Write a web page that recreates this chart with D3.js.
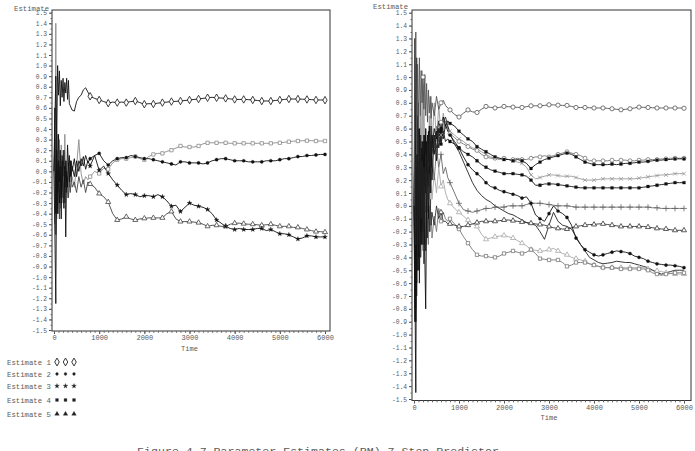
<!DOCTYPE html>
<html><head><meta charset="utf-8">
<script src="https://cdn.jsdelivr.net/npm/d3@7"></script>
<style>
body{margin:0;background:#fff}
text{font-family:"Liberation Mono","DejaVu Sans Mono",monospace;fill:#5a5a5a}
</style>
</head><body>
<svg id="c" width="695" height="451"></svg>
<script>
// ---------- DATA ----------
const time = [0,20,40,60,80,100,120,140,160,180,200,220,240,260,280,300,320,340,360,380,400,
  450,500,550,600,650,700,750,
  800,900,1000,1100,1200,1300,1400,1500,1600,1700,1800,1900,2000,2100,2200,2300,2400,2500,2600,2700,
  2800,2900,3000,3100,3200,3300,3400,3500,3600,3700,3800,3900,4000,4100,4200,4300,4400,4500,4600,4700,
  4800,4900,5000,5100,5200,5300,5400,5500,5600,5700,5800,5900,6000];

// Left panel (5 estimates)
const est1 = [0.00,0.45,0.90,0.30,1.00,0.72,0.95,0.62,0.86,0.70,0.88,0.66,0.84,0.74,0.88,0.68,0.86,0.64,0.62,0.60,0.58,
  0.57,0.66,0.70,0.72,0.77,0.79,0.75,
  .71,.69,.675,.66,.645,.655,.65,.655,.65,.66, .665,.65,.635,.64,.637,.645,.65,.655,.66,.662,
  .665,.67,.675,.68,.684,.69,.696,.70,.696,.693, .69,.685,.68,.68,.68,.678,.675,.67,.665,.665,
  .665,.67,.675,.68,.684,.684,.684,.682,.68,.678, .675,.675,.673];
const est2 = [0.00,-0.60,-1.25,0.20,-0.40,0.10,-0.30,0.05,-0.45,0.10,-0.20,-0.35,0.05,-0.62,0.00,-0.15,0.08,-0.10,0.10,-0.05,0.05,
  -0.05,0.10,0.00,0.12,0.05,0.15,0.08,
  .12,.15,.17,.10,.06,.10,.12,.13,.13,.15, .14,.13,.12,.12,.11,.10,.09,.08,.07,.06,
  .09,.09,.08,.08,.08,.07,.08,.10,.11,.12, .12,.11,.10,.10,.10,.09,.09,.09,.09,.10,
  .10,.10,.11,.12,.12,.13,.14,.14,.15,.15, .155,.16,.16];
const est3 = [0.00,0.60,-0.40,0.30,-0.20,0.35,-0.10,0.20,-0.25,0.15,-0.05,0.20,-0.15,0.10,-0.10,0.25,0.05,0.15,-0.05,0.10,0.00,
  0.12,-0.05,0.10,0.05,0.14,0.02,0.10,
  .05,.15,.01,.05,-.02,-.08,-.13,-.18,-.22,-.21, -.22,-.24,-.23,-.23,-.24,-.22,-.24,-.28,-.33,-.32,
  -.38,-.34,-.30,-.32,-.33,-.34,-.36,-.40,-.46,-.49, -.52,-.54,-.55,-.54,-.55,-.55,-.55,-.54,-.54,-.56,
  -.55,-.57,-.59,-.59,-.60,-.62,-.64,-.63,-.61,-.61, -.62,-.62,-.62];
const est4 = [0.00,-0.50,1.40,-0.45,0.35,-0.40,0.30,-0.35,0.25,-0.30,0.20,-0.25,0.35,-0.20,0.10,-0.25,0.05,-0.15,0.10,-0.10,-0.05,
  -0.15,0.05,0.30,-0.02,-0.12,-0.05,-0.08,
  -.05,.00,-.02,.03,.02,.08,.11,.12,.12,.13, .14,.12,.11,.14,.16,.17,.17,.19,.20,.22,
  .24,.23,.23,.23,.24,.26,.27,.27,.27,.27, .27,.265,.265,.265,.265,.265,.265,.265,.265,.265,
  .265,.27,.27,.275,.28,.285,.287,.29,.29,.29, .287,.287,.287];
const est5 = [0.00,0.30,-0.60,0.10,-0.35,0.00,-0.45,-0.05,-0.30,0.05,-0.25,-0.05,-0.30,0.00,-0.20,-0.05,-0.25,-0.10,-0.20,-0.05,-0.15,
  -0.10,-0.20,-0.05,-0.15,-0.08,-0.20,-0.10,
  -.12,-.15,-.21,-.24,-.29,-.40,-.46,-.45,-.43,-.45, -.46,-.45,-.445,-.44,-.44,-.44,-.44,-.40,-.38,-.45,
  -.475,-.475,-.475,-.48,-.485,-.50,-.52,-.51,-.51,-.52, -.52,-.50,-.49,-.49,-.495,-.50,-.50,-.505,-.51,-.505,
  -.50,-.51,-.52,-.52,-.52,-.53,-.53,-.54,-.55,-.56, -.57,-.57,-.575];

// Right panel (11 estimates)
const r1 = [0.00,0.80,1.35,0.40,1.10,0.60,1.15,0.70,1.05,0.80,1.00,0.75,1.02,0.70,0.95,0.65,0.90,0.72,0.85,0.68,0.80,
  0.70,0.85,0.75,0.80,0.82,0.78,0.76,
  .745,.71,.69,.72,.745,.73,.725,.75,.772,.765, .76,.765,.772,.77,.767,.765,.764,.77,.777,.777,
  .777,.78,.785,.784,.782,.78,.78,.772,.764,.764, .764,.762,.76,.76,.76,.757,.754,.75,.746,.75,
  .754,.76,.767,.765,.764,.762,.76,.76,.76,.76, .76,.76,.758];
const r2 = [0.00,-0.80,0.60,-0.50,0.50,-0.30,0.45,-0.20,0.55,0.00,0.40,-0.10,0.50,0.10,0.45,0.20,0.55,0.30,0.60,0.35,0.55,
  0.45,0.62,0.50,0.65,0.58,0.66,0.60,
  .56,.53,.50,.48,.46,.44,.43,.40,.38,.37, .37,.36,.37,.36,.36,.37,.36,.36,.37,.38,
  .38,.39,.38,.39,.40,.41,.42,.41,.40,.39, .37,.35,.35,.35,.35,.35,.355,.35,.355,.355,
  .35,.35,.355,.355,.36,.36,.36,.365,.365,.37, .37,.37,.37];
const r3 = [0.00,0.50,-0.90,0.30,-0.40,0.35,-0.30,0.40,-0.10,0.50,0.05,0.55,0.15,0.60,0.25,0.55,0.35,0.62,0.40,0.55,0.45,
  0.60,0.52,0.66,0.58,0.69,0.62,0.66,
  .64,.62,.58,.55,.52,.50,.46,.44,.42,.40, .38,.37,.36,.36,.35,.36,.35,.33,.29,.32,
  .34,.36,.37,.38,.39,.40,.41,.40,.38,.36, .34,.33,.32,.32,.32,.32,.325,.32,.325,.33,
  .33,.335,.34,.34,.345,.35,.355,.355,.36,.36, .365,.365,.365];
const r4 = [0.00,0.30,-0.50,0.80,-0.20,0.60,0.00,0.70,0.20,1.05,0.30,0.95,0.25,0.60,0.10,0.50,0.20,0.70,0.40,0.85,0.45,
  0.80,0.50,0.78,0.55,0.72,0.60,0.62,
  .58,.55,.52,.50,.47,.45,.44,.42,.40,.38, .37,.37,.36,.36,.35,.34,.33,.30,.24,.21,
  .22,.23,.24,.24,.235,.23,.23,.23,.22,.21, .20,.20,.20,.205,.21,.21,.21,.21,.21,.21,
  .21,.21,.215,.22,.225,.23,.235,.24,.24,.245, .25,.25,.25];
const r5 = [0.00,-0.60,-1.45,0.20,-0.50,0.10,-0.60,0.05,-0.30,0.30,-0.20,0.10,-0.40,-0.80,0.00,0.30,-0.10,0.40,0.10,0.50,0.20,
  0.55,0.35,0.60,0.48,0.58,0.50,0.52,
  .50,.48,.45,.42,.40,.38,.35,.32,.30,.28, .27,.26,.25,.25,.25,.245,.24,.23,.20,.16,
  .16,.17,.17,.17,.165,.16,.155,.15,.145,.14, .14,.14,.14,.14,.14,.14,.14,.14,.14,.14,
  .14,.14,.14,.145,.15,.155,.16,.165,.17,.175, .18,.18,.18];
const r6 = [0.00,0.40,0.90,-0.30,0.60,-0.20,0.30,-0.35,0.20,-0.25,0.35,-0.10,0.40,0.00,0.35,-0.05,0.30,0.05,0.45,0.10,0.40,
  0.20,0.45,0.30,0.40,0.25,0.30,0.22,
  .18,.10,.02,-.03,-.04,-.05,-.04,-.03,-.02,-.02, -.01,-.01,-.01,.00,.00,.00,.00,.01,.02,.02,
  .02,.015,.01,.005,.00,.00,.00,-.005,-.01,-.01, -.01,-.01,-.01,-.01,-.01,-.01,-.01,-.01,-.01,-.01,
  -.01,-.01,-.01,-.01,-.01,-.015,-.015,-.02,-.02,-.02, -.02,-.02,-.02];
const r7 = [0.00,-0.40,0.50,-0.70,0.20,-0.50,0.10,-0.40,0.25,-0.30,0.05,-0.45,0.00,-0.35,0.10,-0.25,0.00,-0.20,0.05,-0.15,-0.05,
  -0.15,0.00,-0.10,-0.05,-0.12,-0.12,-0.14,
  -.14,-.15,-.16,-.16,-.15,-.14,-.13,-.12,-.12,-.12, -.12,-.115,-.11,-.11,-.115,-.12,-.125,-.13,-.135,-.14,
  -.145,-.15,-.16,-.17,-.175,-.18,-.18,-.17,-.16,-.155, -.15,-.145,-.145,-.14,-.14,-.145,-.15,-.155,-.16,-.16,
  -.16,-.16,-.16,-.16,-.165,-.17,-.175,-.18,-.18,-.185, -.19,-.19,-.19];
const r8 = [0.00,0.20,-0.80,0.10,-0.30,0.20,-0.50,0.00,-0.30,0.15,-0.35,-0.05,-0.30,0.05,-0.25,-0.10,-0.30,0.00,-0.20,-0.05,-0.25,
  -0.08,-0.20,-0.02,-0.12,-0.05,-0.10,-0.12,
  -.10,-.14,-.18,-.24,-.29,-.34,-.38,-.39,-.39,-.40, -.40,-.39,-.37,-.36,-.35,-.36,-.37,-.36,-.34,-.37,
  -.41,-.415,-.42,-.42,-.42,-.44,-.47,-.46,-.44,-.44, -.44,-.45,-.46,-.47,-.48,-.48,-.48,-.485,-.49,-.49,
  -.49,-.49,-.49,-.49,-.50,-.52,-.53,-.54,-.53,-.525, -.52,-.52,-.52];
const r9 = [0.00,0.70,-0.20,0.90,-0.40,0.50,-0.10,0.60,-0.40,0.40,-0.10,0.45,-0.20,0.30,-0.30,0.10,-0.15,0.20,-0.10,0.15,0.05,
  0.25,0.10,0.30,0.15,0.20,0.10,0.05,
  .02,-.02,-.05,-.08,-.11,-.14,-.16,-.22,-.26,-.25, -.24,-.235,-.23,-.24,-.25,-.27,-.29,-.31,-.34,-.345,
  -.35,-.35,-.34,-.33,-.35,-.37,-.38,-.40,-.41,-.42, -.43,-.45,-.46,-.47,-.475,-.48,-.48,-.48,-.48,-.48,
  -.48,-.48,-.48,-.48,-.49,-.50,-.505,-.51,-.52,-.525, -.53,-.53,-.53];
const r10 = [0.00,-0.90,1.10,-0.60,0.70,-0.40,0.60,-0.20,0.45,-0.15,0.50,0.00,0.55,0.10,0.50,0.20,0.58,0.25,0.50,0.30,0.55,
  0.40,0.58,0.45,0.60,0.52,0.63,0.58,
  .55,.50,.45,.38,.32,.28,.25,.22,.18,.15, .14,.12,.11,.10,.09,.08,.06,.07,.02,-.07,
  -.10,-.12,-.06,.00,-.04,-.06,-.09,-.15,-.25,-.30, -.34,-.36,-.38,-.39,-.38,-.37,-.36,-.35,-.355,-.36,
  -.37,-.39,-.40,-.41,-.43,-.44,-.45,-.455,-.46,-.46, -.465,-.47,-.48];
const r11 = [0.00,1.30,-0.30,1.15,-0.50,0.80,-0.30,0.55,-0.10,0.35,-0.30,0.30,-0.05,0.40,0.05,0.50,0.15,0.55,0.30,0.62,0.40,
  0.55,0.45,0.60,0.50,0.65,0.69,0.62,
  .56,.48,.42,.34,.26,.18,.12,.08,.05,.03, .00,-.02,-.04,-.06,-.07,-.09,-.11,-.13,-.14,-.15,
  -.20,-.26,-.15,-.05,-.12,-.15,-.16,-.18,-.24,-.30, -.35,-.40,-.42,-.44,-.45,-.445,-.44,-.43,-.435,-.44,
  -.44,-.45,-.46,-.47,-.48,-.50,-.52,-.53,-.52,-.51, -.50,-.50,-.50];

const xTickValues = [0,1000,2000,3000,4000,5000,6000];
const legendLabels = ["Estimate 1","Estimate 2","Estimate 3","Estimate 4","Estimate 5"];
const yLabel = "Estimate", xLabel = "Time";
const caption = "Figure 4.7 Parameter Estimates (PM) 7-Step Predictor";

// ---------- DRAW ----------
const svg = d3.select("#c");
svg.append("rect").attr("width",695).attr("height",451).attr("fill","#fff");

const sym = {
  diamond: d3.symbolDiamond, circle: d3.symbolCircle, star: d3.symbolStar,
  square: d3.symbolSquare, triangle: d3.symbolTriangle,
  plus: d3.symbolPlus || d3.symbolCross, times: d3.symbolTimes || d3.symbolCross
};

function fmt(d){ return (Math.abs(d) < 1e-9 ? 0 : d).toFixed(1); }

function panel(cfg){
  const g = svg.append("g");
  const x = d3.scaleLinear([0,6000],[cfg.x0,cfg.x1]);
  const y = d3.scaleLinear([-1.5,1.5],[cfg.yb,cfg.yt]);
  g.append("rect").attr("x",cfg.fl).attr("y",cfg.ft).attr("width",cfg.fr-cfg.fl).attr("height",cfg.fb-cfg.ft)
    .attr("fill","none").attr("stroke","#333").attr("stroke-width",1);
  const ya = g.append("g").attr("transform",`translate(${cfg.fl},0)`)
    .call(d3.axisLeft(y).ticks(30).tickFormat(fmt).tickSize(3).tickPadding(2));
  ya.select(".domain").remove();
  ya.attr("font-family",null).attr("font-size",6.3);
  ya.selectAll("line").attr("stroke","#444");
  ya.selectAll("text").attr("fill","#5a5a5a");
  const ym = g.append("g").attr("transform",`translate(${cfg.fl},0)`)
    .call(d3.axisLeft(y).ticks(60).tickFormat("").tickSize(1.5));
  ym.select(".domain").remove(); ym.selectAll("line").attr("stroke","#666");
  const xa = g.append("g").attr("transform",`translate(0,${cfg.fb})`)
    .call(d3.axisBottom(x).tickValues(xTickValues).tickFormat(d3.format("d")).tickSize(3).tickPadding(1.5));
  xa.select(".domain").remove();
  xa.attr("font-family",null).attr("font-size",7);
  xa.selectAll("line").attr("stroke","#444");
  xa.selectAll("text").attr("fill","#5a5a5a");
  const xm = g.append("g").attr("transform",`translate(0,${cfg.fb})`)
    .call(d3.axisBottom(x).ticks(60).tickFormat("").tickSize(1.8));
  xm.select(".domain").remove(); xm.selectAll("line").attr("stroke","#666");
  g.append("text").attr("x",cfg.ylx).attr("y",cfg.yly).attr("font-size",7.3).text(yLabel);
  g.append("text").attr("x",(cfg.x0+cfg.x1)/2).attr("y",cfg.fb+19.5).attr("font-size",7)
    .attr("text-anchor","middle").text(xLabel);
  const line = d3.line().x((d,i)=>x(time[i])).y(d=>y(d));
  const clip = "clip"+cfg.id;
  svg.append("clipPath").attr("id",clip).append("rect")
    .attr("x",cfg.fl).attr("y",cfg.ft).attr("width",cfg.fr-cfg.fl).attr("height",cfg.fb-cfg.ft);
  const lg = g.append("g").attr("clip-path",`url(#${clip})`);
  cfg.series.forEach(s=>{
    lg.append("path").attr("d",line(s.v)).attr("fill","none")
      .attr("stroke",s.col).attr("stroke-width",s.w||0.9).attr("stroke-linejoin","round");
  });
  cfg.series.forEach(s=>{
    if(!s.sym) return;
    const idx = time.map((t,i)=>i).filter(i => time[i]%200===0 && (time[i]>=cfg.mstart || (s.early && time[i]===s.early)));
    const gen = d3.symbol().type(sym[s.sym]).size(s.size||12);
    lg.selectAll(null).data(idx).join("path")
      .attr("transform",i=>`translate(${x(time[i])},${y(s.v[i])})`)
      .attr("d",gen())
      .attr("fill", s.open ? "#fff" : (s.stroked ? "none" : s.col))
      .attr("stroke", s.col).attr("stroke-width", s.open||s.stroked ? 0.8 : 0.3);
  });
}

panel({id:"L", x0:54, x1:325, yt:12.7, yb:330, fl:52, fr:330, ft:10, fb:331, ylx:14, yly:10.5, mstart:800,
  series:[
    {v:est4, col:"#8a8a8a", sym:"square", open:true, size:11},
    {v:est5, col:"#444", sym:"triangle", open:true, size:11},
    {v:est2, col:"#111", sym:"circle", size:8},
    {v:est3, col:"#111", sym:"star", size:7},
    {v:est1, col:"#111", sym:"diamond", open:true, size:16}
  ]});

panel({id:"R", x0:414, x1:684, yt:12.7, yb:399, fl:412, fr:691, ft:10, fb:400.5, ylx:373, yly:8.5, mstart:600,
  series:[
    {v:r9, col:"#a8a8a8", sym:"triangle", open:true, size:11},
    {v:r4, col:"#999", sym:"times", stroked:true, size:11},
    {v:r8, col:"#777", sym:"square", open:true, size:11},
    {v:r2, col:"#777", sym:"circle", open:true, size:12},
    {v:r6, col:"#666", sym:"plus", stroked:true, size:13},
    {v:r7, col:"#333", sym:"triangle", open:true, size:11},
    {v:r3, col:"#111", sym:"square", size:8},
    {v:r5, col:"#111", sym:"square", size:8},
    {v:r10, col:"#111", sym:"circle", size:8},
    {v:r11, col:"#222"},
    {v:r1, col:"#555", sym:"circle", open:true, size:14, early:200}
  ]});

// legend
const legSyms = [
  {sym:"diamond", open:true, size:18},
  {sym:"circle", size:6},
  {sym:"star", size:7},
  {sym:"square", size:8},
  {sym:"triangle", size:9}
];
const legY = [362, 374, 386, 400, 414];
const lgd = svg.append("g");
legendLabels.forEach((lab,k)=>{
  lgd.append("text").attr("x",7).attr("y",legY[k]+2.5).attr("font-size",7.3).text(lab);
  [57,65.5,74].forEach(px=>{
    lgd.append("path").attr("transform",`translate(${px},${legY[k]})`)
      .attr("d",d3.symbol().type(sym[legSyms[k].sym]).size(legSyms[k].size)())
      .attr("fill",legSyms[k].open?"#fff":"#222").attr("stroke","#222").attr("stroke-width",legSyms[k].open?0.9:0.3);
  });
});

// caption (cut at the bottom edge, as in the reference)
svg.append("text").attr("x",318).attr("y",455).attr("font-size",11.6).attr("text-anchor","middle").text(caption);
</script>
</body></html>
